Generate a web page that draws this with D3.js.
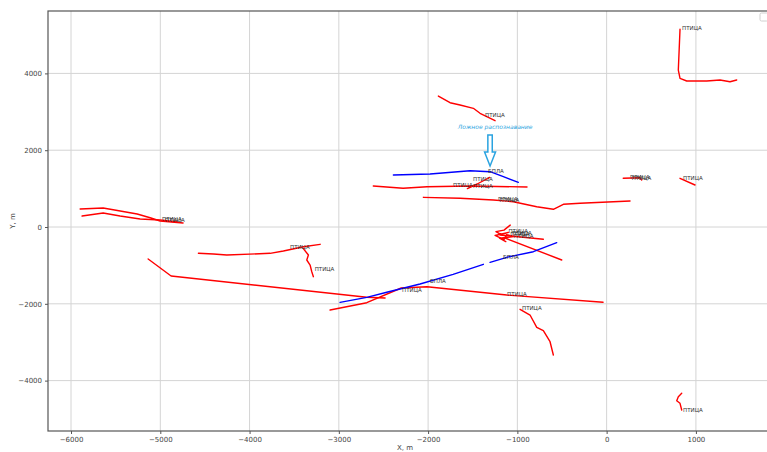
<!DOCTYPE html>
<html>
<head>
<meta charset="utf-8">
<script src="https://cdn.jsdelivr.net/npm/d3@7"></script>
<style>
  html, body { margin: 0; padding: 0; background: #fff; }
  svg { display: block; }
</style>
</head>
<body>
<svg id="chart" width="767" height="452"></svg>
<script>
// Tracks of detected objects in the local frame, metres.
const birdTracks = [
  [[-5898, 469], [-5640, 495], [-5528, 450], [-5259, 339], [-5114, 242], [-5002, 156], [-4745, 104]],
  [[-5876, 286], [-5640, 365], [-5450, 286], [-5226, 208], [-5002, 182], [-4812, 130]],
  [[-5136, -833], [-4879, -1276], [-2687, -1830], [-2482, -1849]],
  [[-3098, -2161], [-2687, -1971], [-2301, -1588], [-2012, -1555], [-1119, -1771], [-40, -1961]],
  [[-4573, -685], [-4405, -703], [-4255, -729], [-3770, -685], [-3621, -625], [-3397, -513], [-3210, -451]],
  [[-3400, -555], [-3341, -729], [-3359, -859], [-3322, -990], [-3303, -1164], [-3285, -1294]],
  [[-1885, 3411], [-1754, 3237], [-1642, 3177], [-1493, 3091], [-1418, 2961], [-1250, 2768]],
  [[-2614, 1068], [-2280, 1008], [-2012, 1049], [-1530, 1068], [-892, 1042]],
  [[-1560, 1000], [-1450, 1120], [-1310, 1290]],
  [[-2053, 773], [-1642, 747], [-1269, 703], [-1045, 659], [-783, 529], [-597, 461], [-485, 591], [-298, 617], [262, 677]],
  [[-1194, -208], [-709, -320]],
  [[-1138, -286], [-503, -859]],
  [[-1080, 50], [-1150, -80], [-1240, -120], [-1180, -200], [-1100, -140], [-1250, -220],
   [-1150, -330], [-1120, -200], [-1040, -250], [-1200, -290], [-1130, -380]],
  [[-970, -2143], [-858, -2292], [-783, -2612], [-709, -2700], [-634, -2987], [-597, -3333]],
  [[822, 5148], [803, 4088], [822, 3872], [897, 3802], [1121, 3802], [1270, 3828], [1382, 3784], [1457, 3828]],
  [[186, 1268], [374, 1284], [393, 1224]],
  [[822, 1268], [990, 1094]],
  [[841, -4330], [803, -4419], [785, -4523], [822, -4591], [841, -4765]]
];

// UAV tracks; null marks a gap in the record.
const uavTracks = [
  [[-2389, 1354], [-1978, 1380], [-1530, 1466], [-1306, 1440], [-1157, 1310], [-989, 1164]],
  [[-2986, -1961], [-2687, -1831], [-2463, -1700], [-2090, -1484], [-1720, -1232], [-1381, -971],
   null,
   [-1306, -919], [-1119, -789], [-821, -643], [-559, -409]]
];

// Class labels placed next to the tracks.
const trackLabels = [
  ["ПТИЦА", -4980, 156], ["ПТИЦА", -4946, 130],
  ["ПТИЦА", -3547, -573], ["ПТИЦА", -3270, -1146],
  ["ПТИЦА", -1362, 2864],
  ["БПЛА", -1328, 1406],
  ["ПТИЦА", -1496, 1198], ["ПТИЦА", -1720, 1042], ["ПТИЦА", -1496, 1016],
  ["ПТИЦА", -1216, 677], ["ПТИЦА", -1200, 660],
  ["ПТИЦА", -1100, -150], ["ПТИЦА", -1060, -200], ["ПТИЦА", -1080, -240], ["ПТИЦА", -1040, -280],
  ["БПЛА", -1160, -833], ["БПЛА", -1978, -1458],
  ["ПТИЦА", -2292, -1693], ["ПТИЦА", -1115, -1797], ["ПТИЦА", -948, -2161],
  ["ПТИЦА", 845, 5130], ["ПТИЦА", 262, 1250], ["ПТИЦА", 280, 1230],
  ["ПТИЦА", 856, 1224], ["ПТИЦА", 856, -4817]
];

const falseDetection = { text: "Ложное распознавание", x: -1250, y: 2540, arrowFrom: [-1306, 2396], arrowTo: [-1306, 1588] };

const xTicks = [-6000, -5000, -4000, -3000, -2000, -1000, 0, 1000];
const yTicks = [-4000, -2000, 0, 2000, 4000];
const xLabel = "X, m";
const yLabel = "Y, m";

const svg = d3.select("#chart");
const plotLeft = 48, plotTop = 11, plotRight = 770, plotBottom = 431;

const x = d3.scaleLinear().domain([-6258, 1830]).range([plotLeft, plotRight]);
const y = d3.scaleLinear().domain([-5312, 5625]).range([plotBottom, plotTop]);

const fontFamily = "'DejaVu Sans', sans-serif";

// Grid
const grid = svg.append("g");
grid.selectAll("line.gx").data(xTicks).join("line")
  .attr("class", "gx")
  .attr("x1", d => x(d)).attr("x2", d => x(d))
  .attr("y1", plotTop).attr("y2", plotBottom)
  .attr("stroke", "#d4d4d4").attr("stroke-width", 1);
grid.selectAll("line.gy").data(yTicks).join("line")
  .attr("class", "gy")
  .attr("y1", d => y(d)).attr("y2", d => y(d))
  .attr("x1", plotLeft).attr("x2", plotRight)
  .attr("stroke", "#d4d4d4").attr("stroke-width", 1);

// Axes
const fmt = d => d < 0 ? "\u2212" + Math.abs(d) : String(d);
const xAxis = svg.append("g").attr("transform", `translate(0,${plotBottom})`)
  .call(d3.axisBottom(x).tickValues(xTicks).tickFormat(fmt).tickSize(3).tickPadding(3));
const yAxis = svg.append("g").attr("transform", `translate(${plotLeft},0)`)
  .call(d3.axisLeft(y).tickValues(yTicks).tickFormat(fmt).tickSize(3).tickPadding(3));
[xAxis, yAxis].forEach(g => {
  g.select(".domain").remove();
  g.selectAll("line").attr("stroke", "#555");
  g.selectAll("text").attr("fill", "#444").style("font-family", fontFamily).style("font-size", "7px");
});

// Frame
svg.append("rect").attr("x", plotLeft).attr("y", plotTop)
  .attr("width", plotRight - plotLeft).attr("height", plotBottom - plotTop)
  .attr("fill", "none").attr("stroke", "#555").attr("stroke-width", 1.2);

// Axis titles
svg.append("text").attr("x", (plotLeft + plotRight) / 2 - 4).attr("y", 450)
  .attr("text-anchor", "middle").attr("fill", "#444")
  .style("font-family", fontFamily).style("font-size", "7px").text(xLabel);
svg.append("text").attr("transform", `translate(15,${(plotTop + plotBottom) / 2}) rotate(-90)`)
  .attr("text-anchor", "middle").attr("fill", "#444")
  .style("font-family", fontFamily).style("font-size", "7px").text(yLabel);

// Tracks
const line = d3.line().defined(d => d !== null).x(d => x(d[0])).y(d => y(d[1]));
const plot = svg.append("g");
plot.selectAll("path.bird").data(birdTracks).join("path")
  .attr("class", "bird").attr("d", line)
  .attr("fill", "none").attr("stroke", "#ff0000").attr("stroke-width", 1.4)
  .attr("stroke-linejoin", "round").attr("stroke-linecap", "round");
plot.selectAll("path.uav").data(uavTracks).join("path")
  .attr("class", "uav").attr("d", line)
  .attr("fill", "none").attr("stroke", "#0000ff").attr("stroke-width", 1.4)
  .attr("stroke-linejoin", "round").attr("stroke-linecap", "round");

// Labels
plot.selectAll("text.lbl").data(trackLabels).join("text")
  .attr("class", "lbl")
  .attr("x", d => x(d[1])).attr("y", d => y(d[2]))
  .attr("fill", "#333").style("font-family", fontFamily).style("font-size", "5.5px")
  .text(d => d[0]);

// False detection note with hollow arrow
const noteColor = "#2aa3e0";
svg.append("text").attr("x", x(falseDetection.x)).attr("y", y(falseDetection.y))
  .attr("text-anchor", "middle").attr("fill", noteColor)
  .style("font-family", fontFamily).style("font-size", "6px").style("font-style", "italic")
  .text(falseDetection.text);
{
  const ax = x(falseDetection.arrowFrom[0]);
  const y0 = y(falseDetection.arrowFrom[1]);
  const y1 = y(falseDetection.arrowTo[1]);
  const shaft = 2.2, head = 5.5, headLen = 14;
  const pts = [
    [ax - shaft, y0], [ax + shaft, y0], [ax + shaft, y1 - headLen], [ax + head, y1 - headLen],
    [ax, y1], [ax - head, y1 - headLen], [ax - shaft, y1 - headLen]
  ];
  svg.append("path").attr("d", "M" + pts.map(p => p.join(",")).join("L") + "Z")
    .attr("fill", "#fff").attr("stroke", noteColor).attr("stroke-width", 1.5)
    .attr("stroke-linejoin", "miter");
}

// Empty legend box in the corner
svg.append("rect").attr("x", 760).attr("y", 13).attr("width", 8).attr("height", 8)
  .attr("rx", 1.5).attr("fill", "#fff").attr("stroke", "#d0d0d0").attr("stroke-width", 1);
</script>
</body>
</html>
